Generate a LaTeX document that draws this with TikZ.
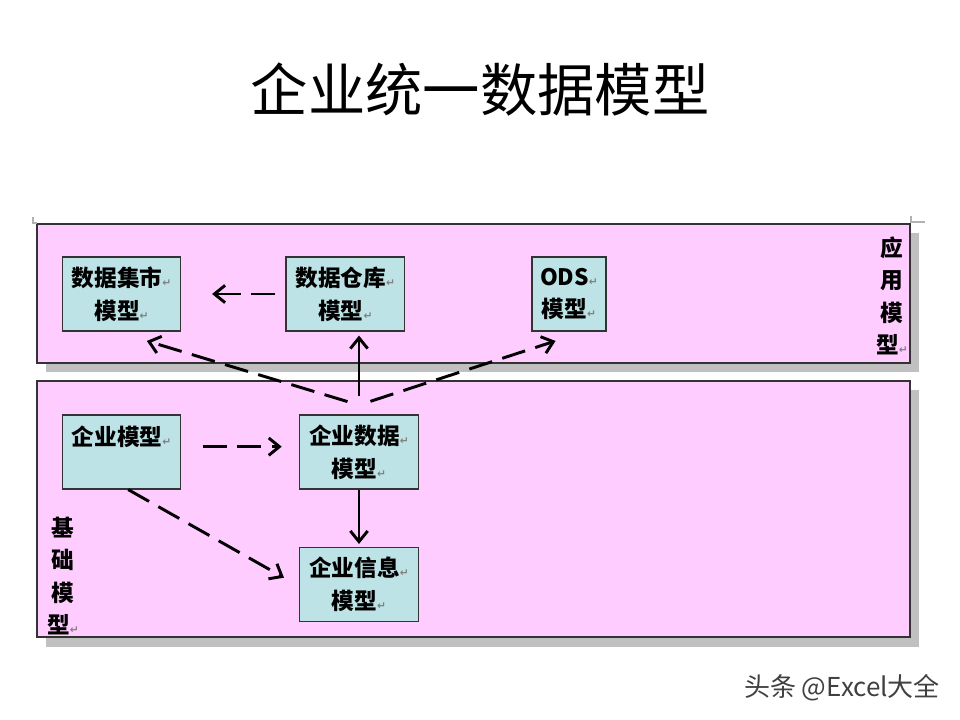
\documentclass[tikz,border=0pt]{standalone}
\usepackage{fontspec}
\usepackage{xcolor}
\usepackage{tikz}
\usetikzlibrary{positioning,arrows.meta}
\setmainfont{Noto Sans CJK SC}
\newfontfamily\symfont{DejaVu Sans}
\definecolor{PanelPink}{HTML}{FFCCFF}
\definecolor{BoxTeal}{HTML}{BDE3E6}
\definecolor{ShadowGray}{HTML}{C0C0C0}
\definecolor{EdgeGray}{HTML}{333333}
\newcommand{\retmark}{{\symfont\fontsize{8}{8}\selectfont\textcolor{gray}{↵}}}

\begin{document}
\begin{tikzpicture}[
      x=0.75pt, y=-0.75pt,
      every node/.style={align=center},
      panel/.style={draw=EdgeGray, fill=PanelPink, line width=1pt},
      shadow/.style={fill=ShadowGray},
      model/.style={draw=EdgeGray, fill=BoxTeal, line width=0.9pt, minimum width=89pt, minimum height=55.5pt, inner sep=0pt, font=\fontsize{17}{24.5}\selectfont\bfseries},
      vlabel/.style={font=\fontsize{17}{24.4}\selectfont\bfseries, inner sep=0pt},
      arr/.style={line width=2.2pt, -{Straight Barb[length=8pt, width=13pt, line width=2.2pt]}},
      dasharr/.style={arr, dash pattern=on 18pt off 8pt}
    ]
      \useasboundingbox (0,0) rectangle (960,720);

      % Title
      \node[font=\fontsize{43}{50}\selectfont] (title) at (480,90) {企业统一数据模型};

      % Panels with shadows
      \fill[shadow] (46,233) rectangle (919,372);
      \draw[panel] (37,224) rectangle (910,363);
      \fill[shadow] (46,390) rectangle (919,647);
      \draw[panel] (37,381) rectangle (910,637);
      \draw[gray!60, line width=0.8pt] (33,217) -- (33,223) -- (37,223);
      \draw[gray!60, line width=0.8pt] (911,216) -- (911,222) -- (925,222);

      % Panel labels
      \node[vlabel] (applbl) at (892,296) {应\\用\\模\\型\retmark};
      \node[vlabel] (baselbl) at (63,576) {基\\础\\模\\型\retmark};

      % Application models
      \node[model] (mart) at (121.5,294) {数据集市\retmark\\模型\retmark};
      \node[model, right=78pt of mart] (dw) {数据仓库\retmark\\模型\retmark};
      \node[model, minimum width=55.5pt, right=94.5pt of dw] (ods) {ODS\retmark\\模型\retmark};

      % Base models
      \node[model] (ent) at (121.5,452) {企业模型\retmark\\\mbox{}};
      \node[model] (edm) at (359,452) {企业数据\retmark\\模型\retmark};
      \node[model, below=42.75pt of edm] (eim) {企业信息\retmark\\模型\retmark};
      \coordinate (hub) at ([yshift=7pt]edm.north);

      % Arrows
      \draw[dasharr, shorten <=7.5pt, shorten >=23pt] (dw) -- (mart);
      \draw[dasharr, shorten <=9pt] (hub) -- ([xshift=19pt,yshift=-7pt]mart.south);
      \draw[dasharr, shorten <=9pt] (hub) -- ([xshift=-10pt,yshift=-7pt]ods.south);
      \draw[arr, shorten <=7pt, shorten >=3pt] (hub) -- (hub |- dw.south);
      \draw[dasharr, shorten <=16pt, shorten >=13pt] ([yshift=4pt]ent.east) -- ([yshift=4pt]edm.west);
      \draw[arr, shorten >=2pt] (edm) -- (eim);
      \draw[dasharr, shorten >=13pt] ([xshift=5pt]ent.south) -- ([yshift=-1.5pt]eim.west);

      % Watermark
      \node[font=\fontsize{19.5}{22}\selectfont, text=black!75] (mark) at (842,688) {头条 @Excel大全};

    \end{tikzpicture}
\end{document}
